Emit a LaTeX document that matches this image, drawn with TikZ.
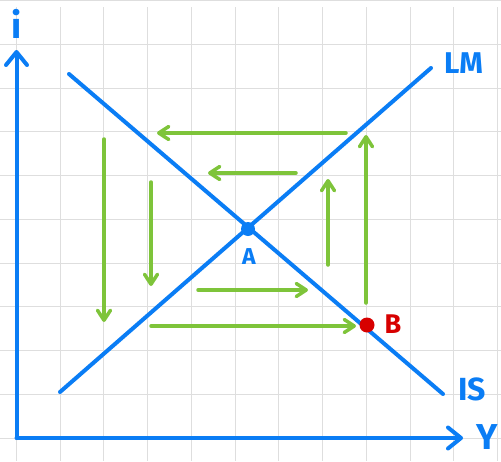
\documentclass[tikz,border=0pt]{standalone}
\usepackage{fontspec}
\setsansfont{Fira Sans}
\usetikzlibrary{arrows.meta}
\definecolor{axblue}{RGB}{10,125,245}
\definecolor{arrgreen}{RGB}{126,196,58}
\definecolor{ptred}{RGB}{215,0,0}
\definecolor{gridgray}{RGB}{222,222,222}
\tikzset{
  gridline/.style={gridgray, line width=1pt},
  axisline/.style={axblue, line width=4pt, line cap=round, line join=round},
  curve/.style={axblue, line width=4pt, line cap=round},
  barb/.style={-{Straight Barb[length=13pt,width=21pt,line width=4pt,round]}},
  garrow/.style={arrgreen, line width=3.5pt, line cap=round, -{Straight Barb[length=10pt,width=13pt,line width=3.5pt,round]}},
  lbl/.style={font=\sffamily\bfseries, inner sep=0pt},
}
\begin{document}
\begin{tikzpicture}[x=1pt,y=-1pt]
\useasboundingbox (0,0) rectangle (501,461);
\fill[white] (0,0) rectangle (501,461);
% grid
\foreach \k in {0,...,11} {
  \draw[gridline] ({16.3+43.75*\k},7) -- ({16.3+43.75*\k},461);
}
\foreach \k in {0,...,10} {
  \draw[gridline] (0,{438-43.75*\k}) -- (501,{438-43.75*\k});
}
% axes
\coordinate (O) at (16.5,438);
\coordinate (ytop) at (16.5,50);
\coordinate (xend) at (463,438);
\draw[axisline, barb] (O) -- (ytop);
\draw[axisline, barb] (O) -- (xend);
\node[lbl, axblue, font=\sffamily\bfseries\fontsize{36}{36}\selectfont] (ilabel) at (17,24) {i};
\node[lbl, axblue, font=\sffamily\bfseries\fontsize{36}{36}\selectfont] (ylabel) at (487,437) {Y};
% curves
\coordinate (lm1) at (60,392);
\coordinate (lm2) at (431,68);
\coordinate (is1) at (69,74);
\coordinate (is2) at (443,394);
\draw[curve] (lm1) -- (lm2);
\draw[curve] (is1) -- (is2);
\node[lbl, axblue, font=\sffamily\bfseries\fontsize{30}{30}\selectfont, anchor=west] (lmlabel) at (444,63) {LM};
\node[lbl, axblue, font=\sffamily\bfseries\fontsize{32}{32}\selectfont, anchor=west] (islabel) at (458,389) {IS};
% points
\fill[axblue] (248,229) circle (7pt);
\node[lbl, axblue, font=\sffamily\bfseries\fontsize{23}{23}\selectfont] (alabel) at (249,257) {A};
\node[circle, fill=ptred, minimum size=15pt, inner sep=0pt] (B) at (367,325) {};
\node[lbl, ptred, font=\sffamily\bfseries\fontsize{27}{27}\selectfont] (blabel) at (393,324) {B};
% green arrows
\coordinate (g1s) at (346,133); \coordinate (g1e) at (157,133);
\coordinate (g2s) at (296,173); \coordinate (g2e) at (208,173);
\coordinate (g3s) at (104,139); \coordinate (g3e) at (104,322);
\coordinate (g4s) at (151,182); \coordinate (g4e) at (151,286);
\coordinate (g5s) at (198,290); \coordinate (g5e) at (308,290);
\coordinate (g6s) at (151,326); \coordinate (g6e) at (356,326);
\coordinate (g7s) at (328,265); \coordinate (g7e) at (328,179);
\coordinate (g8s) at (366,303); \coordinate (g8e) at (366,135);
\draw[garrow] (g1s) -- (g1e);
\draw[garrow] (g2s) -- (g2e);
\draw[garrow] (g3s) -- (g3e);
\draw[garrow] (g4s) -- (g4e);
\draw[garrow] (g5s) -- (g5e);
\draw[garrow] (g6s) -- (g6e);
\draw[garrow] (g7s) -- (g7e);
\draw[garrow] (g8s) -- (g8e);
\end{tikzpicture}
\end{document}
